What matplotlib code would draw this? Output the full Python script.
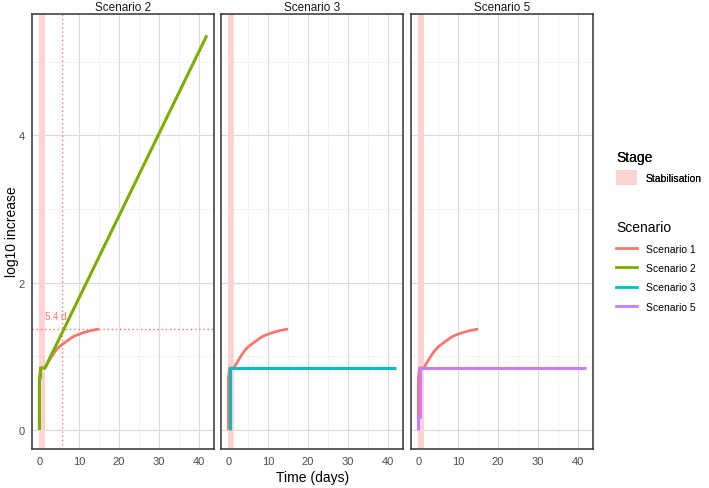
import matplotlib.pyplot as plt
from matplotlib.patches import Patch
from matplotlib.lines import Line2D

plt.rcParams['font.family'] = ['Liberation Sans', 'DejaVu Sans']

# baseline (Scenario 1) curve, shown in every panel
s1_t = [0, 0, 0.3, 1.4, 2, 3, 4, 5, 6, 7, 8, 9, 10, 11, 12, 13, 14, 15]
s1_y = [0, 0.7, 0.84, 0.84, 0.90, 0.99, 1.07, 1.13, 1.17, 1.21, 1.25, 1.28,
        1.30, 1.32, 1.335, 1.35, 1.36, 1.37]

s2_t = [0, 0, 0.3, 0.3, 1.4, 42]
s2_y = [0, 0.71, 0.71, 0.84, 0.84, 5.36]

s3_t = [0.3, 0.3, 0.5, 0.5, 42]
s3_y = [0, 0.43, 0.43, 0.84, 0.84]

s5_t = [0, 0, 0.3, 0.3, 42]
s5_y = [0, 0.17, 0.17, 0.84, 0.84]

panels = ["Scenario 2", "Scenario 3", "Scenario 5"]
series = {"Scenario 2": (s2_t, s2_y), "Scenario 3": (s3_t, s3_y), "Scenario 5": (s5_t, s5_y)}
colors = {"Scenario 1": "#F8766D", "Scenario 2": "#7CAE00",
          "Scenario 3": "#00BFC4", "Scenario 5": "#C77CFF"}
stab_color = "#FDD3D1"

stab_start, stab_end = 0, 1.4
target_y = 1.37
cross_t = 5.7
cross_label = "5.4 d"

fig = plt.figure(figsize=(7.09, 4.89), dpi=100)
lefts = [32, 221, 411]
for i, name in enumerate(panels):
    ax = fig.add_axes([lefts[i] / 709, 1 - 450 / 489, 182 / 709, 435 / 489])
    ax.axvspan(stab_start, stab_end, color=stab_color, lw=0, zorder=1)
    ax.plot(s1_t, s1_y, color=colors["Scenario 1"], lw=2, zorder=3, solid_capstyle='butt')
    t, y = series[name]
    ax.plot(t, y, color=colors[name], lw=2.2, zorder=4, solid_capstyle='butt')
    if i == 0:
        ax.axhline(target_y, color="#F8766D", lw=1, ls=(0, (1, 2)), zorder=2)
        ax.axvline(cross_t, color="#F8766D", lw=1, ls=(0, (1, 2)), zorder=2)
        ax.text(4.1, 1.55, cross_label, color="#F8766D", fontsize=7, ha='center', va='center')
    ax.set_xlim(-1.85, 43.8)
    ax.set_ylim(-0.26, 5.65)
    ax.set_xticks([0, 10, 20, 30, 40])
    ax.set_xticks([5, 15, 25, 35], minor=True)
    ax.set_yticks([0, 2, 4])
    ax.set_yticks([1, 3, 5], minor=True)
    ax.grid(which='major', color="#DADADA", lw=0.8, zorder=0)
    ax.grid(which='minor', color="#EEEEEE", lw=0.5, zorder=0)
    ax.set_axisbelow(True)
    ax.tick_params(which='both', length=0, labelsize=8, labelcolor="#4D4D4D", pad=5)
    if i > 0:
        ax.tick_params(labelleft=False)
    for sp in ax.spines.values():
        sp.set_color("#333333")
        sp.set_linewidth(1.1)
    ax.set_title(name, fontsize=8.5, color="#1A1A1A", pad=3)

fig.text(313 / 709, 1 - 478 / 489, "Time (days)", ha='center', va='center', fontsize=10)
fig.text(12 / 709, 1 - 232 / 489, "log10 increase", rotation=90, ha='center', va='center', fontsize=10)

stage_leg = fig.legend(handles=[Patch(facecolor=stab_color, label="Stabilisation")],
                       title="Stage", loc='upper left', bbox_to_anchor=(607 / 709, 1 - 142 / 489),
                       frameon=False, fontsize=7.5, title_fontsize=10, handlelength=2.0,
                       handleheight=1.9, handletextpad=0.8)
stage_leg._legend_box.align = "left"
fig.add_artist(stage_leg)

scen_handles = [Line2D([0], [0], color=c, lw=2, label=k) for k, c in colors.items()]
scen_leg = fig.legend(handles=scen_handles, title="Scenario", loc='upper left',
                      bbox_to_anchor=(607 / 709, 1 - 212 / 489), frameon=False, fontsize=7.5,
                      title_fontsize=10, handlelength=2.0, handletextpad=0.8, labelspacing=0.9)
scen_leg._legend_box.align = "left"

plt.savefig('out.png', dpi=100)
